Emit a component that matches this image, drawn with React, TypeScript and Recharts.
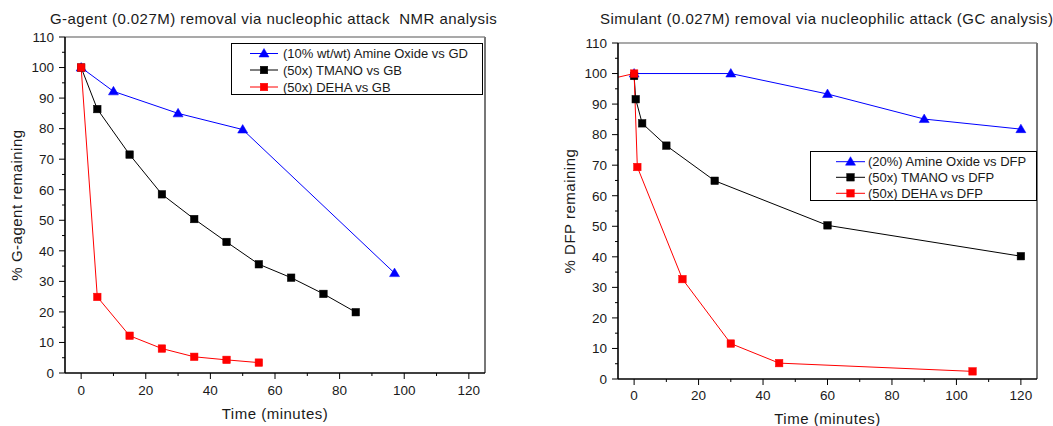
import React from 'react';
import { LineChart, Line, XAxis, YAxis, ReferenceLine, Legend } from 'recharts';

const FONT = '"Liberation Sans", Arial, Helvetica, sans-serif';

// ---- Left chart (NMR) ----
const leftTitle = 'G-agent (0.027M) removal via nucleophic attack  NMR analysis';
const leftYLabel = '% G-agent remaining';
const leftNames = ['(10% wt/wt) Amine Oxide vs GD', '(50x) TMANO vs GB', '(50x) DEHA vs GB'];
const leftAmineX = [0, 10, 30, 50, 97];
const leftAmineY = [100, 92.2, 85.0, 79.7, 32.7];
const leftTmanoX = [0, 5, 15, 25, 35, 45, 55, 65, 75, 85];
const leftTmanoY = [100, 86.4, 71.5, 58.5, 50.4, 42.9, 35.6, 31.2, 25.9, 19.9];
const leftDehaX = [0, 5, 15, 25, 35, 45, 55];
const leftDehaY = [100, 24.9, 12.2, 8.0, 5.3, 4.3, 3.4];

// ---- Right chart (GC) ----
const rightTitle = 'Simulant (0.027M) removal via nucleophilic attack (GC analysis)';
const rightYLabel = '% DFP remaining';
const rightNames = ['(20%) Amine Oxide vs DFP', '(50x) TMANO vs DFP', '(50x) DEHA vs DFP'];
const rightAmineX = [0, 30, 60, 90, 120];
const rightAmineY = [100, 100, 93.3, 85.1, 81.8];
const rightTmanoX = [0, 0.5, 2.5, 10, 25, 60, 120];
const rightTmanoY = [99.2, 91.6, 83.7, 76.4, 64.9, 50.3, 40.2];
const rightDehaX = [-10, 0, 1, 15, 30, 45, 105];
const rightDehaY = [97.6, 100, 69.4, 32.7, 11.6, 5.2, 2.5];

// ---- Axes ----
const xTitle = 'Time (minutes)';
const xDomain = [-5, 125];
const yDomain = [0, 110];
const xTicks = [0, 10, 20, 30, 40, 50, 60, 70, 80, 90, 100, 110, 120];
const yTicks = [0, 5, 10, 15, 20, 25, 30, 35, 40, 45, 50, 55, 60, 65, 70, 75, 80, 85, 90, 95, 100, 105, 110];

const BLUE = '#0000ff';
const BLACK = '#000000';
const RED = '#ff0000';
const COLORS = [BLUE, BLACK, RED];
const SHAPES = ['triangle', 'square', 'square'];

type Pt = { x: number; y: number };
const zip = (xs: number[], ys: number[]): Pt[] => xs.map((x, i) => ({ x, y: ys[i] }));

const Marker = ({ shape, color, cx, cy }: any) => {
  if (shape === 'triangle') {
    return (
      <polygon
        points={`${cx},${cy - 5} ${cx + 5},${cy + 3.5} ${cx - 5},${cy + 3.5}`}
        fill={color}
        stroke={color}
        strokeWidth={0.5}
      />
    );
  }
  return <rect x={cx - 3.75} y={cy - 3.75} width={7.5} height={7.5} fill={color} stroke={color} strokeWidth={0.5} />;
};

const makeDot = (shape: string, color: string) => (props: any) => {
  const { cx, cy, index } = props;
  if (cx == null || cy == null) return <g key={index} />;
  return <Marker key={index} shape={shape} color={color} cx={cx} cy={cy} />;
};

const YTick = (props: any) => {
  const { x, y, payload } = props;
  const v = payload.value;
  const major = v % 10 === 0;
  return (
    <g>
      <line x1={x} x2={x - (major ? 6 : 3)} y1={y} y2={y} stroke="#000" strokeWidth={1} />
      {major && (
        <text x={x - 11} y={y} dy="0.36em" textAnchor="end" fontSize={13.5} fontFamily={FONT} fill="#1a1a1a">
          {v}
        </text>
      )}
    </g>
  );
};

const makeXTick = (gap: number) => (props: any) => {
  const { x, y, payload } = props;
  const v = payload.value;
  const major = v % 20 === 0;
  return (
    <g>
      <line x1={x} x2={x} y1={y} y2={y + (major ? 6 : 3)} stroke="#000" strokeWidth={1} />
      {major && (
        <text x={x} y={y + gap} textAnchor="middle" fontSize={13.5} fontFamily={FONT} fill="#1a1a1a">
          {v}
        </text>
      )}
    </g>
  );
};

const makeYLabel = (text: string, dx: number) => (props: any) => {
  const vb = props.viewBox || {};
  const cx = vb.x + dx;
  const cy = vb.y + vb.height / 2;
  return (
    <text
      x={cx}
      y={cy}
      transform={`rotate(-90, ${cx}, ${cy})`}
      textAnchor="middle"
      dy="0.36em"
      fontSize={15}
      letterSpacing={0.5}
      fontFamily={FONT}
      fill="#1a1a1a"
    >
      {text}
    </text>
  );
};

const makeXLabel = (text: string, dy: number) => (props: any) => {
  const vb = props.viewBox || {};
  return (
    <text
      x={vb.x + vb.width / 2}
      y={vb.y + dy}
      textAnchor="middle"
      fontSize={15}
      letterSpacing={0.5}
      fontFamily={FONT}
      fill="#1a1a1a"
    >
      {text}
    </text>
  );
};

const makeLegend = (
  names: string[],
  w: number,
  h: number,
  lineX1: number,
  lineX2: number,
  textX: number,
  rowYs: number[],
  fs: number
) => () => (
  <svg width={w} height={h} style={{ display: 'block' }}>
    <rect x={0.5} y={0.5} width={w - 1} height={h - 1} fill="#ffffff" stroke="#000" strokeWidth={1} />
    {names.map((n, i) => (
      <g key={n}>
        <line x1={lineX1} x2={lineX2} y1={rowYs[i]} y2={rowYs[i]} stroke={COLORS[i]} strokeWidth={1} />
        <Marker shape={SHAPES[i]} color={COLORS[i]} cx={(lineX1 + lineX2) / 2} cy={rowYs[i]} />
        <text x={textX} y={rowYs[i]} dy="0.36em" fontSize={fs} fontFamily={FONT} fill="#1a1a1a">
          {n}
        </text>
      </g>
    ))}
  </svg>
);

type PanelProps = {
  width: number;
  height: number;
  margin: { top: number; right: number; bottom: number; left: number };
  yAxisWidth: number;
  xAxisHeight: number;
  names: string[];
  series: Pt[][];
  yLabel: string;
  yLabelDx: number;
  xTickGap: number;
  xLabelDy: number;
  legendPos: { left: number; top: number };
  legendSize: { w: number; h: number; lx1: number; lx2: number; tx: number; rows: number[]; fs: number };
};

const Panel = (p: PanelProps) => (
  <LineChart width={p.width} height={p.height} margin={p.margin}>
    <XAxis
      type="number"
      dataKey="x"
      domain={xDomain}
      ticks={xTicks}
      interval={0}
      allowDataOverflow
      height={p.xAxisHeight}
      tickSize={0}
      tickMargin={0}
      tickLine={false}
      axisLine={{ stroke: '#000', strokeWidth: 1.6 }}
      tick={makeXTick(p.xTickGap)}
      label={makeXLabel(xTitle, p.xLabelDy)}
    />
    <YAxis
      type="number"
      domain={yDomain}
      ticks={yTicks}
      interval={0}
      allowDataOverflow
      width={p.yAxisWidth}
      tickSize={0}
      tickMargin={0}
      tickLine={false}
      axisLine={{ stroke: '#000', strokeWidth: 1.6 }}
      tick={YTick}
      label={makeYLabel(p.yLabel, p.yLabelDx)}
    />
    <ReferenceLine y={110} stroke="#555" strokeWidth={1.2} />
    <ReferenceLine x={125} stroke="#777" strokeWidth={2} />
    {p.series.map((d, i) => (
      <Line
        key={p.names[i]}
        data={d}
        dataKey="y"
        name={p.names[i]}
        stroke={COLORS[i]}
        strokeWidth={1}
        dot={makeDot(SHAPES[i], COLORS[i])}
        activeDot={false}
        isAnimationActive={false}
      />
    ))}
    <Legend
      layout="horizontal"
      verticalAlign="middle"
      align="center"
      wrapperStyle={{ left: p.legendPos.left, top: p.legendPos.top, width: p.legendSize.w, height: p.legendSize.h }}
      content={makeLegend(
        p.names,
        p.legendSize.w,
        p.legendSize.h,
        p.legendSize.lx1,
        p.legendSize.lx2,
        p.legendSize.tx,
        p.legendSize.rows,
        p.legendSize.fs
      )}
    />
  </LineChart>
);

const titleStyle: React.CSSProperties = {
  position: 'absolute',
  fontFamily: FONT,
  fontSize: 15,
  letterSpacing: '0.45px',
  color: '#1a1a1a',
  whiteSpace: 'pre',
  lineHeight: '17px',
};

export default function App() {
  return (
    <div style={{ position: 'fixed', left: 0, top: 0, width: 1053, height: 426, background: '#fff', overflow: 'hidden' }}>
      <div style={{ ...titleStyle, left: 50, top: 10 }}>{leftTitle}</div>
      <div style={{ ...titleStyle, left: 600, top: 10 }}>{rightTitle}</div>
      <div style={{ position: 'absolute', left: 0, top: 0 }}>
        <Panel
          width={520}
          height={426}
          margin={{ top: 37, right: 35, bottom: 0, left: 0 }}
          yAxisWidth={65}
          xAxisHeight={53}
          names={leftNames}
          series={[zip(leftAmineX, leftAmineY), zip(leftTmanoX, leftTmanoY), zip(leftDehaX, leftDehaY)]}
          yLabel={leftYLabel}
          yLabelDx={17}
          xTickGap={22}
          xLabelDy={46}
          legendPos={{ left: 231, top: 43 }}
          legendSize={{ w: 252, h: 52, lx1: 19, lx2: 47, tx: 52, rows: [10.5, 27, 44], fs: 13 }}
        />
      </div>
      <div style={{ position: 'absolute', left: 530, top: 0 }}>
        <Panel
          width={523}
          height={426}
          margin={{ top: 43, right: 16, bottom: 0, left: 0 }}
          yAxisWidth={88}
          xAxisHeight={47}
          names={rightNames}
          series={[zip(rightAmineX, rightAmineY), zip(rightTmanoX, rightTmanoY), zip(rightDehaX, rightDehaY)]}
          yLabel={rightYLabel}
          yLabelDx={40}
          xTickGap={21}
          xLabelDy={45}
          legendPos={{ left: 280, top: 151 }}
          legendSize={{ w: 227, h: 50, lx1: 26, lx2: 55, tx: 58, rows: [10.7, 26.3, 42.3], fs: 13 }}
        />
      </div>
    </div>
  );
}
